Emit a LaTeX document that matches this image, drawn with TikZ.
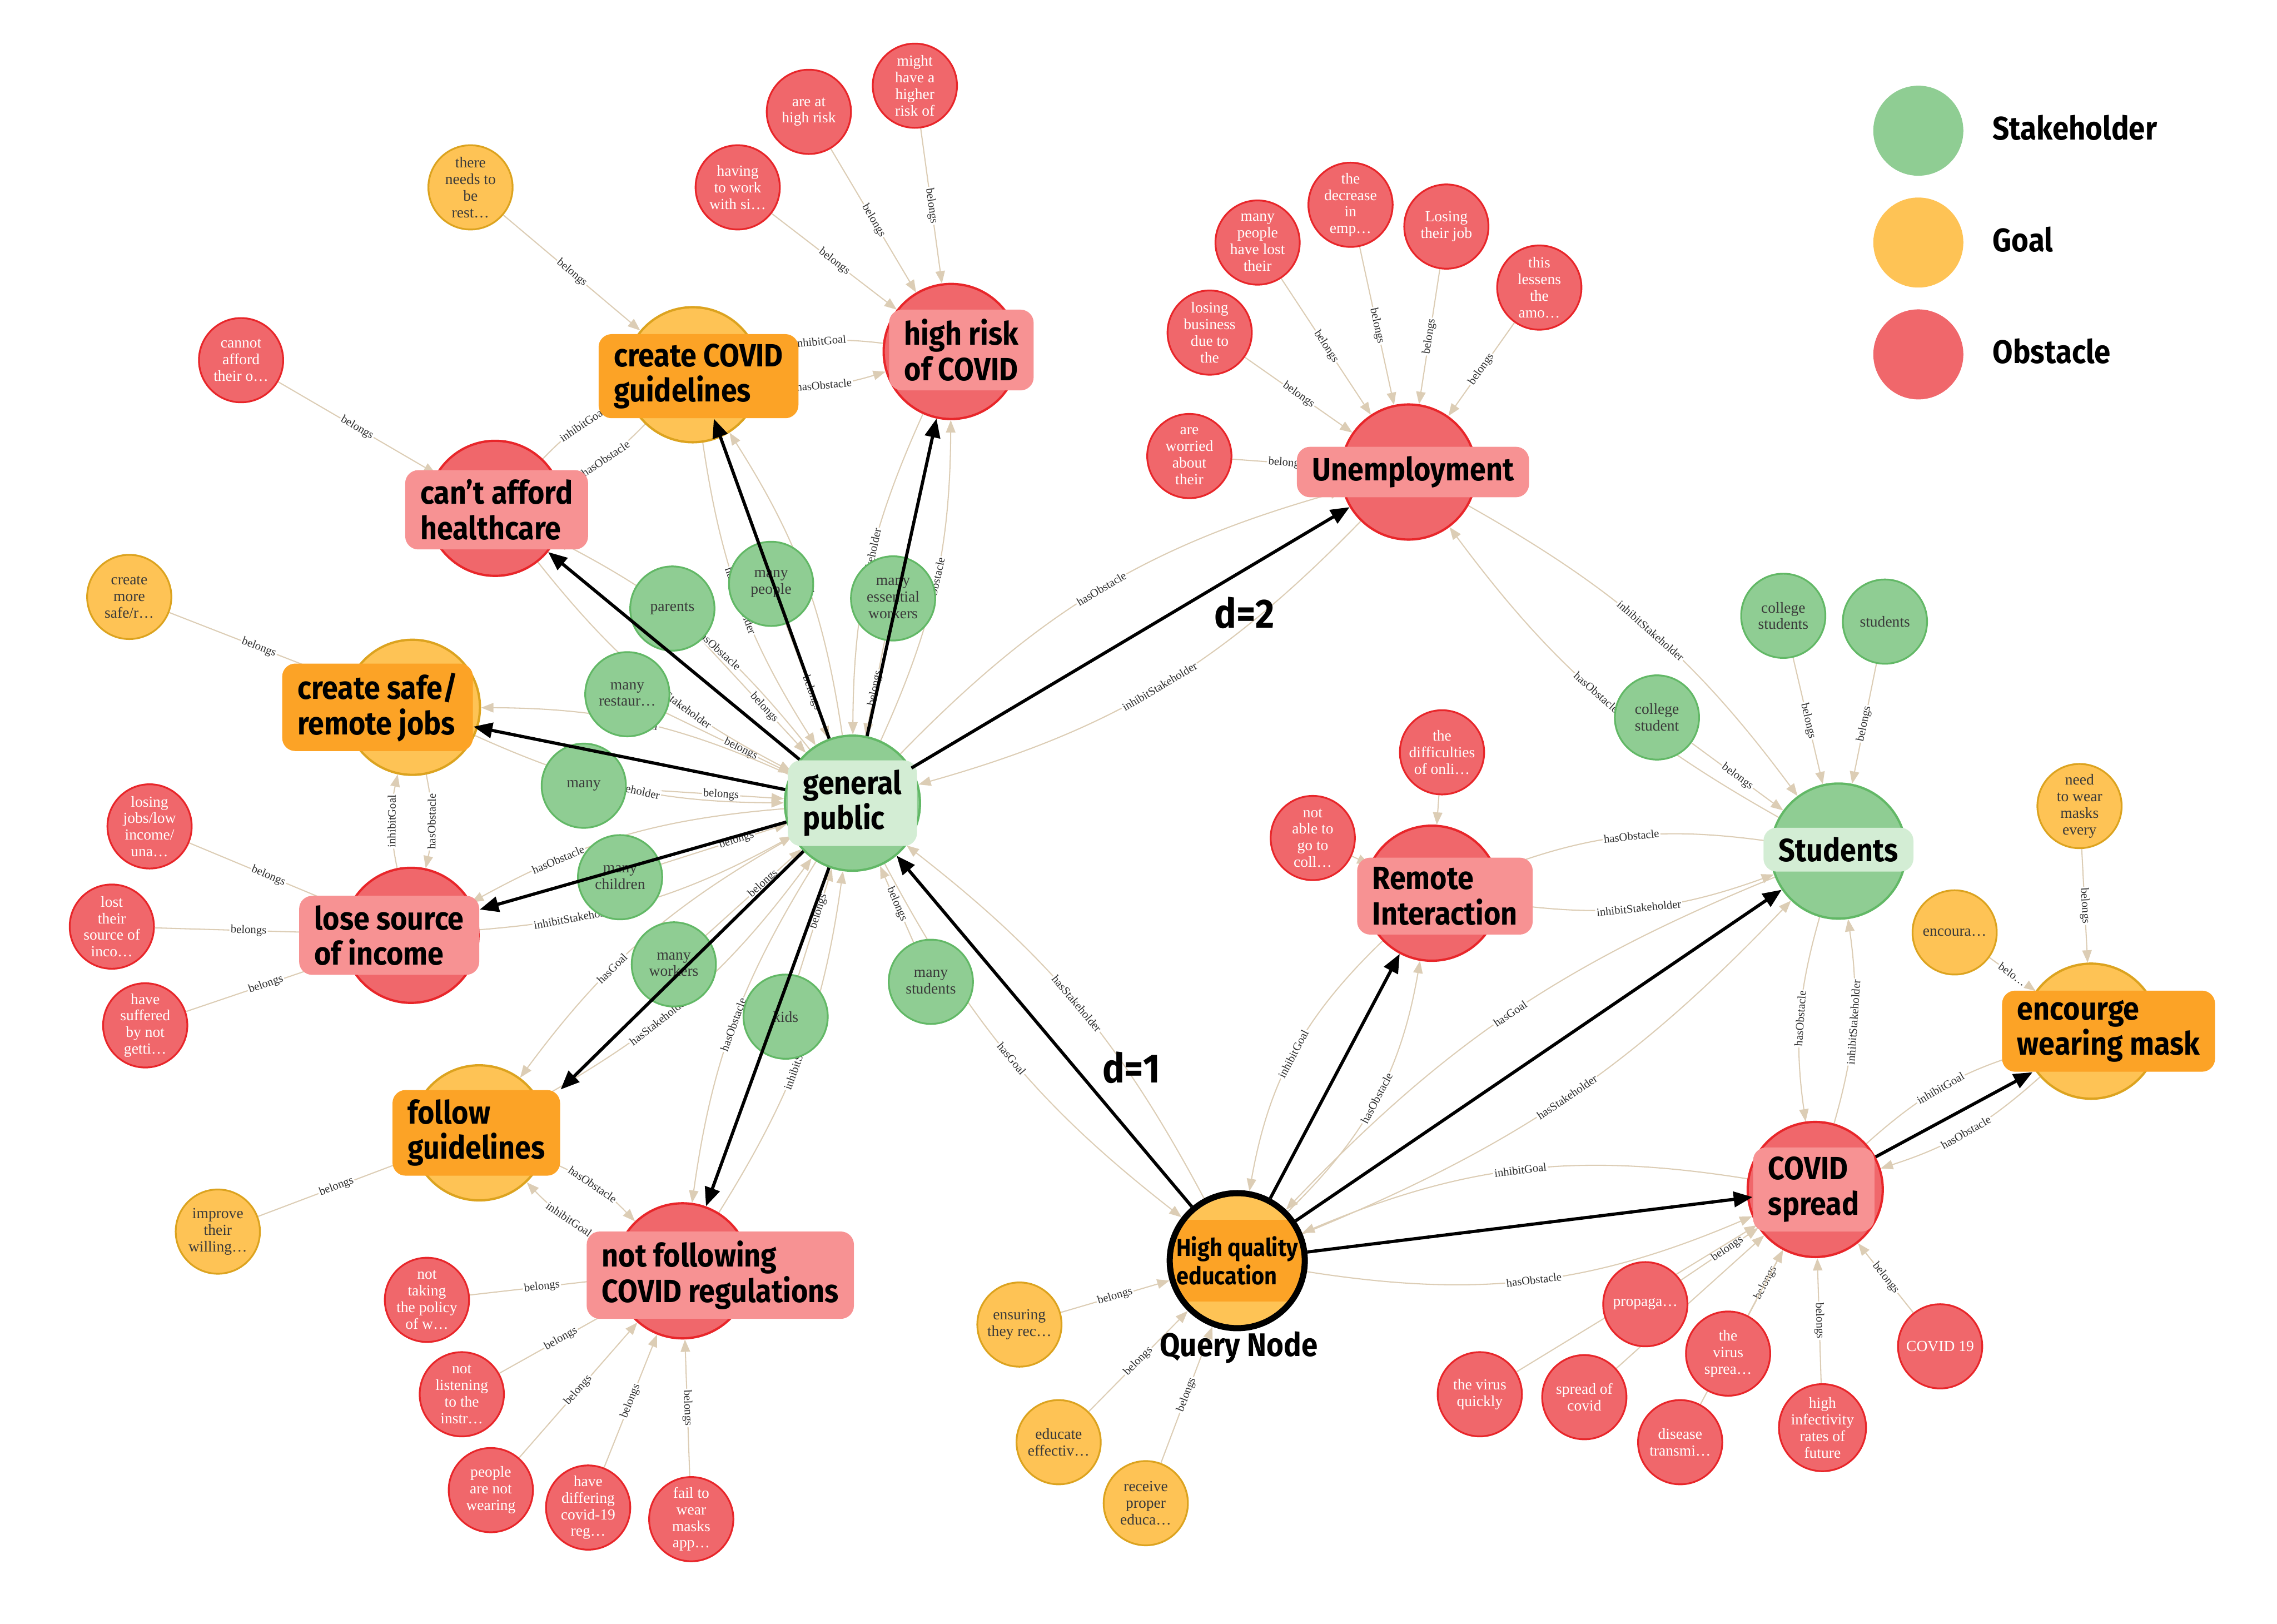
\documentclass[tikz,border=0pt]{standalone}
\usepackage{fontspec}
\setmainfont{Liberation Serif}
\newfontfamily\headfont[FakeStretch=0.9]{Fira Sans}
\usetikzlibrary{arrows.meta, backgrounds}

\definecolor{stakefill}{HTML}{8FCD93}
\definecolor{stakeline}{HTML}{62B866}
\definecolor{stakebox}{HTML}{D3EDD4}
\definecolor{goalfill}{HTML}{FEC355}
\definecolor{goalline}{HTML}{DCA31F}
\definecolor{goalbox}{HTML}{FCA326}
\definecolor{obstfill}{HTML}{F0676B}
\definecolor{obstline}{HTML}{E8262A}
\definecolor{obstbox}{HTML}{F79293}
\definecolor{edgec}{HTML}{DCCDB5}
\definecolor{nodetext}{HTML}{3A3A3A}
\definecolor{labtext}{HTML}{2E2E2E}

\begin{document}
\begin{tikzpicture}[x=0.2mm, y=-0.2mm,
    leaf/.style={circle, draw, line width=0.7pt, minimum size=11.6mm, inner sep=0pt, align=center, font=\fontsize{6}{6.5}\selectfont},
    stake/.style={leaf, fill=stakefill, draw=stakeline, text=nodetext},
    goal/.style={leaf, fill=goalfill, draw=goalline, text=nodetext},
    obst/.style={leaf, fill=obstfill, draw=obstline, text=white},
    hub/.style={minimum size=18.6mm, line width=0.9pt},
    tag/.style={rounded corners=1.8mm, align=left, inner xsep=2.1mm, inner ysep=1.3mm, font=\headfont\bfseries\fontsize{12.6}{13.8}\selectfont},
    rel/.style={draw=edgec, line width=0.45pt, -{Triangle[length=1.7mm, width=1.3mm]}},
    lab/.style={sloped, fill=white, inner sep=0.5pt, text=labtext, font=\fontsize{4.5}{5.2}\selectfont},
    qarrow/.style={line width=1.25pt, -{Triangle[length=2.6mm, width=2.1mm]}},
    pair/.style={bend right=12},
    riap/.style={bend left=12},
    big/.style={font=\headfont\bfseries\fontsize{12.8}{15}\selectfont}
]
\useasboundingbox (0,0) rectangle (1568,1118);

% hubs
\node[stake, hub] (gp) at (587,553) {};
\node[goal, hub] (ccg) at (477,258) {};
\node[obst, hub] (hr) at (655,242) {};
\node[obst, hub] (caf) at (341,350) {};
\node[obst, hub] (une) at (970,325) {};
\node[goal, hub] (csj) at (284,487) {};
\node[obst, hub] (lsi) at (283,644) {};
\node[goal, hub] (fg) at (330,780) {};
\node[obst, hub] (nf) at (470,875) {};
\node[obst, hub] (ri) at (986,615) {};
\node[stake, hub] (st) at (1266,586) {};
\node[obst, hub] (cs) at (1250,819) {};
\node[goal, hub] (ewm) at (1440,710) {};
\node[goal, hub, draw=black, line width=2.4pt,
      path picture={\fill[goalbox] ([yshift=5.6mm]path picture bounding box.west) rectangle ([yshift=-5.6mm]path picture bounding box.east);}] (hqe) at (852,868) {};

% leaves around high risk of COVID
\node[obst] (work) at (508,129) {having\\to work\\with si…};
\node[obst] (atrisk) at (557,77) {are at\\high risk};
\node[obst] (higher) at (630,59) {might\\have a\\higher\\risk of};
\node[goal] (rest) at (324,129) {there\\needs to\\be\\rest…};
\node[obst] (cannot) at (166,248) {cannot\\afford\\their o…};

% leaves around Unemployment
\node[obst] (manylost) at (866,167) {many\\people\\have lost\\their};
\node[obst] (decrease) at (930,141) {the\\decrease\\in\\emp…};
\node[obst] (losejob) at (996,156) {Losing\\their job};
\node[obst] (lessens) at (1060,198) {this\\lessens\\the\\amo…};
\node[obst] (business) at (833,229) {losing\\business\\due to\\the};
\node[obst] (worried) at (819,314) {are\\worried\\about\\their};

% leaves on the left
\node[goal] (safer) at (89,411) {create\\more\\safe/r…};
\node[obst] (lowinc) at (103,569) {losing\\jobs/low\\income/\\una…};
\node[obst] (lostsrc) at (77,638) {lost\\their\\source of\\inco…};
\node[obst] (suffered) at (100,706) {have\\suffered\\by not\\getti…};
\node[goal] (improve) at (150,848) {improve\\their\\willing…};

% leaves around not following COVID regulations
\node[obst] (policy) at (294,895) {not\\taking\\the policy\\of w…};
\node[obst] (listen) at (318,960) {not\\listening\\to the\\instr…};
\node[obst] (wearing) at (338,1026) {people\\are not\\wearing};
\node[obst] (differ) at (405,1038) {have\\differing\\covid-19\\reg…};
\node[obst] (failmask) at (476,1046) {fail to\\wear\\masks\\app…};

% stakeholders of general public
\node[stake] (parents) at (463,419) {parents};
\node[stake] (mpeople) at (531,402) {many\\people};
\node[stake] (essential) at (615,412) {many\\essential\\workers};
\node[stake] (restaur) at (432,478) {many\\restaur…};
\node[stake] (many) at (402,541) {many};
\node[stake] (children) at (427,604) {many\\children};
\node[stake] (workers) at (464,664) {many\\workers};
\node[stake] (kids) at (541,700) {kids};
\node[stake] (mstudents) at (641,676) {many\\students};

% leaves around Remote Interaction and the query node
\node[obst] (difficult) at (993,518) {the\\difficulties\\of onli…};
\node[obst] (notable) at (904,577) {not\\able to\\go to\\coll…};
\node[goal] (ensuring) at (702,912) {ensuring\\they rec…};
\node[goal] (educate) at (729,993) {educate\\effectiv…};
\node[goal] (receive) at (789,1035) {receive\\proper\\educa…};

% leaves around Students
\node[stake] (colstuds) at (1228,424) {college\\students};
\node[stake] (studs) at (1298,428) {students};
\node[stake] (colstud) at (1141,494) {college\\student};

% leaves around COVID spread and the mask goal
\node[obst] (propaga) at (1133,898) {propaga…};
\node[obst] (quickly) at (1019,960) {the virus\\quickly};
\node[obst] (spreadcovid) at (1091,962) {spread of\\covid};
\node[obst] (sprea) at (1190,932) {the\\virus\\sprea…};
\node[obst] (disease) at (1157,993) {disease\\transmi…};
\node[obst] (infect) at (1255,983) {high\\infectivity\\rates of\\future};
\node[obst] (covid19) at (1336,927) {COVID 19};
\node[goal] (needmask) at (1432,555) {need\\to wear\\masks\\every};
\node[goal] (encoura) at (1346,642) {encoura…};

% labels on the hubs
\node[tag, fill=stakebox] (gpb) at (587,553) {general\\public};
\node[tag, fill=goalbox] (ccgb) at (481,259) {create COVID\\guidelines};
\node[tag, fill=obstbox] (hrb) at (662,241) {high risk\\of COVID};
\node[tag, fill=obstbox] (cafb) at (342,351) {can’t afford\\healthcare};
\node[tag, fill=obstbox] (uneb) at (973,325) {Unemployment};
\node[tag, fill=goalbox] (csjb) at (260,487) {create safe/\\remote jobs};
\node[tag, fill=obstbox] (lsib) at (268,644) {lose source\\of income};
\node[tag, fill=goalbox] (fgb) at (328,780) {follow\\guidelines};
\node[tag, fill=obstbox] (nfb) at (496,878) {not following\\COVID regulations};
\node[tag, fill=obstbox] (rib) at (995,617) {Remote\\Interaction};
\node[tag, fill=stakebox] (stb) at (1266,585) {Students};
\node[tag, fill=obstbox] (csb) at (1249,819) {COVID\\spread};
\node[tag, fill=goalbox] (ewmb) at (1452,710) {encourge\\wearing mask};
\node[align=left, font=\headfont\bfseries\fontsize{9.6}{11.2}\selectfont] (hqeb) at (852,868) {High quality\\education};
\node[big] (query) at (853,928) {Query Node};
\node[big, font=\headfont\bfseries\fontsize{16}{18}\selectfont] (done) at (779,735) {d=1};
\node[big, font=\headfont\bfseries\fontsize{16}{18}\selectfont] (dtwo) at (857,422) {d=2};

% legend
\node[circle, fill=stakefill, minimum size=12.4mm] (legs) at (1321,90) {};
\node[circle, fill=goalfill, minimum size=12.4mm] (legg) at (1321,167) {};
\node[circle, fill=obstfill, minimum size=12.4mm] (lego) at (1321,244) {};
\node[big, anchor=west] (legst) at (1366,88) {Stakeholder};
\node[big, anchor=west] (leggt) at (1366,165) {Goal};
\node[big, anchor=west] (legot) at (1366,242) {Obstacle};

\begin{scope}[on background layer]
    % belongs edges into the hubs
    \draw[rel] (work) -- node[lab]{belongs} (hr);
    \draw[rel] (atrisk) -- node[lab]{belongs} (hr);
    \draw[rel] (higher) -- node[lab]{belongs} (hr);
    \draw[rel] (rest) -- node[lab]{belongs} (ccg);
    \draw[rel] (cannot) -- node[lab]{belongs} (caf);
    \draw[rel] (manylost) -- node[lab]{belongs} (une);
    \draw[rel] (decrease) -- node[lab]{belongs} (une);
    \draw[rel] (losejob) -- node[lab]{belongs} (une);
    \draw[rel] (lessens) -- node[lab]{belongs} (une);
    \draw[rel] (business) -- node[lab]{belongs} (une);
    \draw[rel] (worried) -- node[lab]{belongs} (une);
    \draw[rel] (safer) -- node[lab]{belongs} (csj);
    \draw[rel] (lowinc) -- node[lab]{belongs} (lsi);
    \draw[rel] (lostsrc) -- node[lab]{belongs} (lsi);
    \draw[rel] (suffered) -- node[lab]{belongs} (lsi);
    \draw[rel] (improve) -- node[lab]{belongs} (fg);
    \draw[rel] (policy) -- node[lab]{belongs} (nf);
    \draw[rel] (listen) -- node[lab]{belongs} (nf);
    \draw[rel] (wearing) -- node[lab]{belongs} (nf);
    \draw[rel] (differ) -- node[lab]{belongs} (nf);
    \draw[rel] (failmask) -- node[lab]{belongs} (nf);
    \draw[rel] (difficult) -- (ri);
    \draw[rel] (notable) -- (ri);
    \draw[rel] (ensuring) -- node[lab]{belongs} (hqe);
    \draw[rel] (educate) -- node[lab]{belongs} (hqe);
    \draw[rel] (receive) -- node[lab]{belongs} (hqe);
    \draw[rel] (colstuds) -- node[lab]{belongs} (st);
    \draw[rel] (studs) -- node[lab]{belongs} (st);
    \draw[rel] (colstud) -- node[lab]{belongs} (st);
    \draw[rel] (propaga) -- node[lab, pos=0.6]{belongs} (cs);
    \draw[rel] (quickly) -- (cs);
    \draw[rel] (spreadcovid) -- (cs);
    \draw[rel] (sprea) -- node[lab]{belongs} (cs);
    \draw[rel] (disease) -- (cs);
    \draw[rel] (infect) -- node[lab]{belongs} (cs);
    \draw[rel] (covid19) -- node[lab]{belongs} (cs);
    \draw[rel] (needmask) -- node[lab]{belongs} (ewm);
    \draw[rel] (encoura) -- node[lab]{belo…} (ewm);
    \draw[rel] (parents) -- node[lab, pos=0.6]{belongs} (gp);
    \draw[rel] (mpeople) -- node[lab, pos=0.6]{belongs} (gp);
    \draw[rel] (essential) -- node[lab]{belongs} (gp);
    \draw[rel] (restaur) -- node[lab, pos=0.6]{belongs} (gp);
    \draw[rel] (many) -- node[lab, pos=0.6]{belongs} (gp);
    \draw[rel] (children) -- node[lab, pos=0.6]{belongs} (gp);
    \draw[rel] (workers) -- node[lab, pos=0.6]{belongs} (gp);
    \draw[rel] (kids) -- node[lab, pos=0.6]{belongs} (gp);
    \draw[rel] (mstudents) -- node[lab]{belongs} (gp);

    % relations between hubs
    \draw[rel] (hr) to[pair] node[lab]{inhibitGoal} (ccg);
    \draw[rel] (ccg) to[pair] node[lab]{hasObstacle} (hr);
    \draw[rel] (caf) to[riap] node[lab]{inhibitGoal} (ccg);
    \draw[rel] (ccg) to[riap] node[lab]{hasObstacle} (caf);
    \draw[rel] (lsi) to[riap] node[lab]{inhibitGoal} (csj);
    \draw[rel] (csj) to[riap] node[lab]{hasObstacle} (lsi);
    \draw[rel] (nf) to[riap] node[lab]{inhibitGoal} (fg);
    \draw[rel] (fg) to[riap] node[lab]{hasObstacle} (nf);
    \draw[rel] (ri) to[bend right=18] node[lab]{inhibitGoal} (hqe);
    \draw[rel] (hqe) to[bend right=18] node[lab]{hasObstacle} (ri);
    \draw[rel] (cs) to[bend right=16] node[lab]{inhibitGoal} (hqe);
    \draw[rel] (hqe) to[bend right=16] node[lab]{hasObstacle} (cs);
    \draw[rel] (cs) to[riap] node[lab]{inhibitGoal} (ewm);
    \draw[rel] (ewm) to[riap] node[lab]{hasObstacle} (cs);
    \draw[rel] (st) to[pair] node[lab]{hasObstacle} (cs);
    \draw[rel] (cs) to[pair] node[lab]{inhibitStakeholder} (st);
    \draw[rel] (st) to[bend right=14] node[lab]{hasObstacle} (ri);
    \draw[rel] (ri) to[bend right=14] node[lab]{inhibitStakeholder} (st);
    \draw[rel] (st) to[riap] node[lab]{hasObstacle} (une);
    \draw[rel] (une) to[riap] node[lab]{inhibitStakeholder} (st);
    \draw[rel] (gp) to[bend left=15] node[lab]{hasObstacle} (une);
    \draw[rel] (une) to[bend left=15] node[lab]{inhibitStakeholder} (gp);
    \draw[rel] (hqe) to[pair] node[lab]{hasStakeholder} (gp);
    \draw[rel] (gp) to[pair] node[lab]{hasGoal} (hqe);
    \draw[rel] (hqe) to[pair] node[lab]{hasStakeholder} (st);
    \draw[rel] (st) to[pair] node[lab]{hasGoal} (hqe);
    \draw[rel] (gp) to[pair] node[lab]{hasObstacle} (hr);
    \draw[rel] (hr) to[pair] node[lab]{inhibitStakeholder} (gp);
    \draw[rel] (gp) to[pair] node[lab]{hasGoal} (ccg);
    \draw[rel] (ccg) to[pair] node[lab]{hasStakeholder} (gp);
    \draw[rel] (gp) to[pair] node[lab, pos=0.4]{hasObstacle} (caf);
    \draw[rel] (caf) to[pair] node[lab, pos=0.6]{inhibitStakeholder} (gp);
    \draw[rel] (gp) to[pair] node[lab]{hasGoal} (csj);
    \draw[rel] (csj) to[pair] node[lab]{hasStakeholder} (gp);
    \draw[rel] (gp) to[pair] node[lab, pos=0.72]{hasObstacle} (lsi);
    \draw[rel] (lsi) to[pair] node[lab, pos=0.28]{inhibitStakeholder} (gp);
    \draw[rel] (gp) to[pair] node[lab, pos=0.62]{hasGoal} (fg);
    \draw[rel] (fg) to[pair] node[lab, pos=0.38]{hasStakeholder} (gp);
    \draw[rel] (gp) to[pair] node[lab]{hasObstacle} (nf);
    \draw[rel] (nf) to[pair] node[lab]{inhibitStakeholder} (gp);
\end{scope}

% query paths
\draw[qarrow] (gp) -- (ccgb);
\draw[qarrow] (gp) -- (hr);
\draw[qarrow] (gp) -- (caf);
\draw[qarrow] (gp) -- (csjb);
\draw[qarrow] (gp) -- (lsib);
\draw[qarrow] (gp) -- (fgb.north east);
\draw[qarrow] (gp) -- (nf);
\draw[qarrow] (gp) -- (une);
\draw[qarrow] (hqe) -- (gp);
\draw[qarrow] (hqe) -- (ri);
\draw[qarrow] (hqe) -- (st);
\draw[qarrow] (hqe) -- (csb);
\draw[qarrow] (cs) -- (ewmb);
\end{tikzpicture}
\end{document}
